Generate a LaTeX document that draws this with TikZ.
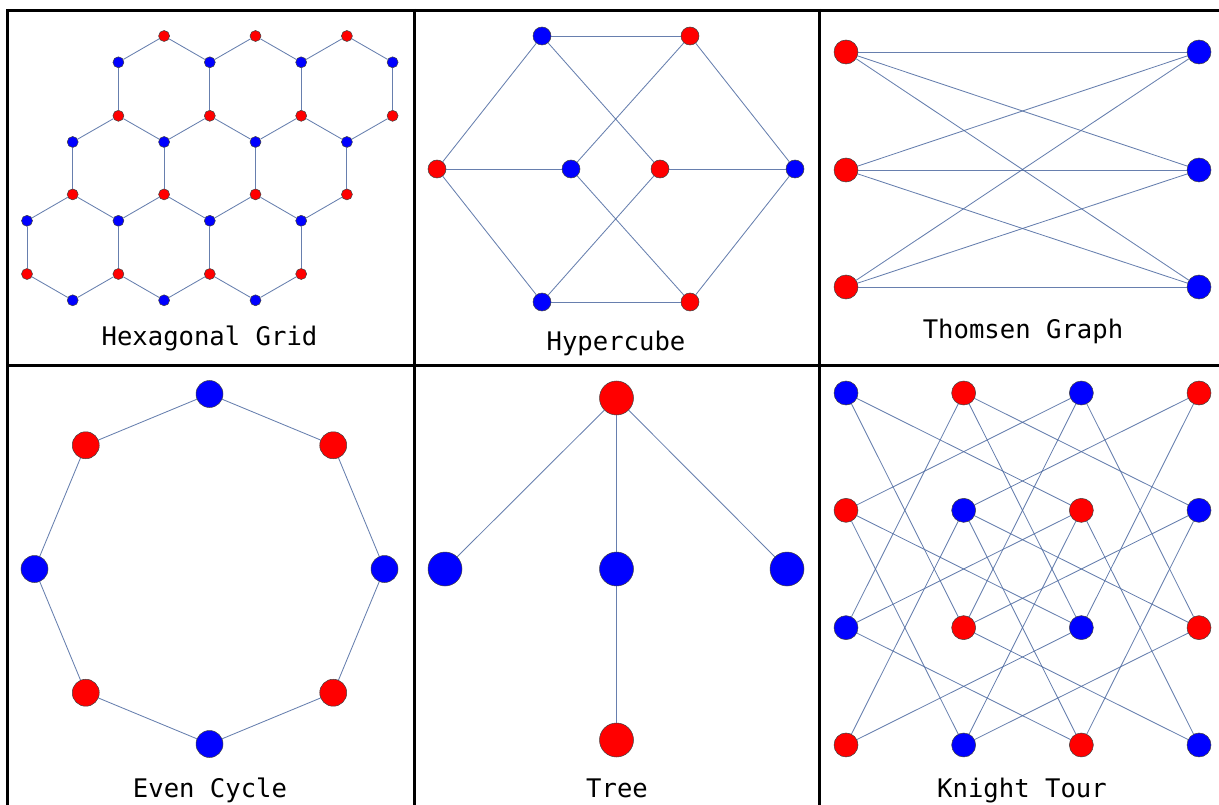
\documentclass[tikz,border=0pt]{standalone}
\usepackage{fontspec}
\newfontfamily\lblfont{DejaVu Sans Mono}
\definecolor{edgecol}{RGB}{76,105,160}
\begin{document}
\begin{tikzpicture}[x=1pt,y=-1pt,
  vx/.style={circle,draw=black!75,line width=0.5pt,inner sep=0pt,minimum size=#1},
  rv/.style={vx=#1,fill=red},
  bv/.style={vx=#1,fill=blue},
  edge/.style={draw=edgecol,line width=0.85pt,draw opacity=0.85},
  lbl/.style={font=\lblfont\fontsize{25.6}{30}\selectfont,anchor=base,inner sep=0pt},
  frame/.style={line width=3pt,black}]
\useasboundingbox (0,0) rectangle (1219,805);
% frame
\draw[frame] (6,10.5) -- (1219,10.5);
\draw[frame] (6,365.5) -- (1219,365.5);
\draw[frame] (7.5,9) -- (7.5,805);
\draw[frame] (414,9) -- (414,805);
\draw[frame] (819.5,9) -- (819.5,805);

% ---------------- Hexagonal grid
\foreach \i/\j/\y in {3/0/36,5/0/36,7/0/36, 2/2/115.8,4/2/115.8,6/2/115.8,8/2/115.8,
  1/4/194.4,3/4/194.4,5/4/194.4,7/4/194.4, 0/6/274,2/6/274,4/6/274,6/6/274}
  \node[rv=11pt] (h\i-\j) at ({27+45.7*\i},\y) {};
\foreach \i/\j/\y in {2/1/62.3,4/1/62.3,6/1/62.3,8/1/62.3, 1/3/142,3/3/142,5/3/142,7/3/142,
  0/5/220.8,2/5/220.8,4/5/220.8,6/5/220.8, 1/7/300.3,3/7/300.3,5/7/300.3}
  \node[bv=11pt] (h\i-\j) at ({27+45.7*\i},\y) {};
\foreach \a/\b in {2-1/2-2,4-1/4-2,6-1/6-2,8-1/8-2,1-3/1-4,3-3/3-4,5-3/5-4,7-3/7-4,
  0-5/0-6,2-5/2-6,4-5/4-6,6-5/6-6,
  3-0/2-1,3-0/4-1,5-0/4-1,5-0/6-1,7-0/6-1,7-0/8-1,
  2-2/1-3,2-2/3-3,4-2/3-3,4-2/5-3,6-2/5-3,6-2/7-3,8-2/7-3,
  1-4/0-5,1-4/2-5,3-4/2-5,3-4/4-5,5-4/4-5,5-4/6-5,7-4/6-5,
  0-6/1-7,2-6/1-7,2-6/3-7,4-6/3-7,4-6/5-7,6-6/5-7}
  \draw[edge] (h\a) -- (h\b);
\node[lbl] (lhex) at (209.5,345) {Hexagonal Grid};

% ---------------- Hypercube
\node[bv=18pt] (qA) at (542,36) {};
\node[rv=18pt] (qB) at (690,36) {};
\node[rv=18pt] (qC) at (437,169) {};
\node[bv=18pt] (qD) at (571,169) {};
\node[rv=18pt] (qE) at (660,169) {};
\node[bv=18pt] (qF) at (795,169) {};
\node[bv=18pt] (qG) at (542,302) {};
\node[rv=18pt] (qH) at (690,302) {};
\foreach \a/\b in {A/B,A/C,A/E,B/D,B/F,C/D,E/F,C/G,D/H,E/G,F/H,G/H}
  \draw[edge] (q\a) -- (q\b);
\node[lbl] (lcube) at (616,350) {Hypercube};

% ---------------- Thomsen graph
\foreach \k/\y in {1/52,2/170,3/287}{
  \node[rv=24pt] (t\k) at (846,\y) {};
  \node[bv=24pt] (u\k) at (1199,\y) {};
}
\foreach \a in {1,2,3}{\foreach \b in {1,2,3}{\draw[edge] (t\a) -- (u\b);}}
\node[lbl] (lthom) at (1023,338) {Thomsen Graph};

% ---------------- Even cycle
\foreach \k in {0,...,7}{
  \pgfmathtruncatemacro\kk{\k}
  \ifodd\kk \def\cc{red}\else\def\cc{blue}\fi
  \node[vx=27pt,fill=\cc] (c\k) at ({209.5+175*cos(90-45*\k)},{569-175*sin(90-45*\k)}) {};
}
\foreach \a/\b in {0/1,1/2,2/3,3/4,4/5,5/6,6/7,7/0}
  \draw[edge] (c\a) -- (c\b);
\node[lbl] (lcyc) at (210,797) {Even Cycle};

% ---------------- Tree
\node[rv=34pt] (r0) at (616.5,398) {};
\node[bv=34pt] (r1) at (445,569) {};
\node[bv=34pt] (r2) at (616.5,569) {};
\node[bv=34pt] (r3) at (787,569) {};
\node[rv=34pt] (r4) at (616.5,740) {};
\draw[edge] (r0) -- (r1);
\draw[edge] (r0) -- (r2);
\draw[edge] (r0) -- (r3);
\draw[edge] (r2) -- (r4);
\node[lbl] (ltree) at (617,797) {Tree};

% ---------------- Knight tour
\foreach \c in {0,...,3}{\foreach \r in {0,...,3}{
  \pgfmathtruncatemacro\kk{\c+\r}
  \ifodd\kk \def\kc{red}\else\def\kc{blue}\fi
  \node[vx=24pt,fill=\kc] (k\c\r) at ({846+117.67*\c},{393+117.33*\r}) {};
}}
\foreach \a/\b in {00/21,10/31,20/01,30/11,01/22,11/32,21/02,31/12,02/23,12/33,22/03,32/13,
  00/12,10/02,10/22,20/12,20/32,30/22,01/13,11/03,11/23,21/13,21/33,31/23}
  \draw[edge] (k\a) -- (k\b);
\node[lbl] (lknight) at (1022,797) {Knight Tour};
\end{tikzpicture}
\end{document}
